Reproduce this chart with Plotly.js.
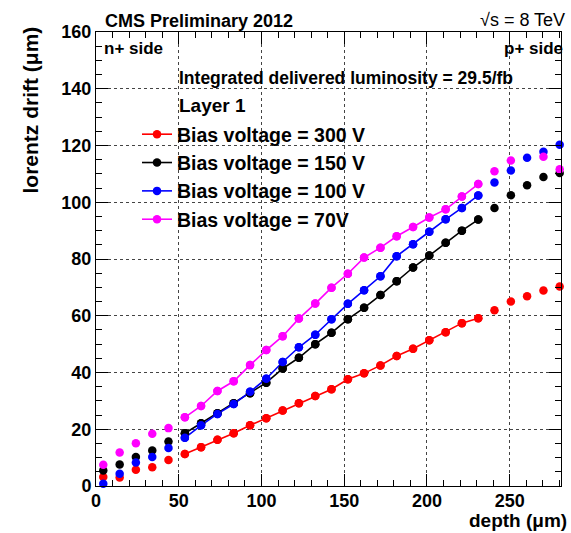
<!DOCTYPE html>
<html><head><meta charset="utf-8">
<script src="https://cdn.plot.ly/plotly-3.0.1.min.js"></script>
<style>html,body{margin:0;padding:0;background:#fff}#chart{width:571px;height:533px}</style>
</head><body><div id="chart"></div>
<script>
// depth bin centres (micrometres)
const depth = [4.4, 14.3, 24.1, 34.0, 43.8, 53.7, 63.5, 73.4, 83.2, 93.1, 102.9, 112.8, 122.6, 132.5, 142.3,
  152.2, 162.0, 171.9, 181.7, 191.6, 201.4, 211.3, 221.1, 231.0, 240.8, 250.7, 260.5, 270.4, 280.2];
// lorentz drift (micrometres) for each bias voltage
const drift300 = [3.2, 3.0, 5.7, 6.6, 9.2, 11.3, 13.7, 16.3, 18.6, 21.4, 23.9, 26.6, 29.2, 31.7, 34.1,
  37.6, 39.7, 42.5, 45.8, 48.4, 51.4, 54.2, 57.4, 59.1, 61.9, 65.0, 66.9, 68.9, 70.3];
const drift150 = [5.5, 7.6, 10.2, 12.5, 15.7, 18.6, 22.1, 25.6, 29.2, 32.7, 36.4, 41.4, 45.2, 50.0, 54.0,
  58.8, 62.8, 67.3, 72.2, 77.0, 81.2, 85.7, 90.0, 93.9, 98.0, 102.5, 106.0, 108.9, 110.3];
const drift100 = [0.8, 4.3, 8.3, 10.2, 13.4, 17.0, 21.4, 25.4, 28.9, 33.2, 37.8, 43.7, 48.9, 53.3, 58.8,
  64.2, 69.0, 73.9, 81.0, 85.2, 89.6, 94.0, 98.0, 102.4, 107.0, 111.2, 115.7, 117.8, 120.3];
const drift70 = [7.5, 11.8, 15.1, 18.4, 20.4, 24.2, 28.2, 33.5, 36.9, 42.6, 47.9, 52.8, 59.0, 64.3, 69.9,
  74.8, 80.5, 84.0, 88.0, 91.3, 94.6, 97.5, 102.0, 106.4, 110.9, 114.7, null, 116.0, 111.6];
const seriesNames = ['Bias voltage = 300 V', 'Bias voltage = 150 V', 'Bias voltage = 100 V', 'Bias voltage = 70V'];
const seriesColors = ['#ff0000', '#000000', '#0000ff', '#ff00ff'];
// fitted range: points index 5 .. 23
const fitFirst = 5, fitLast = 23;

const series = [drift300, drift150, drift100, drift70];
const FONT = 'Liberation Sans, Arial, Helvetica, sans-serif';
const traces = [];
series.forEach((ys, k) => {
  traces.push({
    type: 'scatter', mode: 'lines+markers', name: seriesNames[k],
    x: depth.slice(fitFirst, fitLast + 1), y: ys.slice(fitFirst, fitLast + 1),
    line: {color: seriesColors[k], width: 1.6},
    marker: {color: seriesColors[k], size: 8.5, symbol: 'circle'},
    cliponaxis: false, legendgroup: 'g' + k
  });
});
series.forEach((ys, k) => {
  traces.push({
    type: 'scatter', mode: 'markers', name: seriesNames[k], showlegend: false,
    x: depth, y: ys,
    marker: {color: seriesColors[k], size: 8.5, symbol: 'circle'},
    cliponaxis: false, legendgroup: 'g' + k
  });
});

const px = v => (v - 96) / 465;
const py = v => (486 - v) / 454;
const bold = {family: FONT, weight: 'bold', color: '#000'};

const axisCommon = {
  showline: true, linecolor: '#000', linewidth: 1, mirror: 'allticks',
  ticks: 'inside', ticklen: 12, tickwidth: 1, tickcolor: '#000',
  showgrid: true, gridcolor: '#444', griddash: 'dot', gridwidth: 1,
  zeroline: false, tickfont: {family: FONT, weight: 'bold', size: 18, color: '#000'}
};

const layout = {
  width: 571, height: 533,
  margin: {l: 96, r: 10, t: 32, b: 47},
  paper_bgcolor: '#fff', plot_bgcolor: '#fff',
  font: {family: FONT, color: '#000'},
  title: {text: 'CMS Preliminary 2012', xref: 'container', yref: 'container',
    x: 105 / 571, xanchor: 'left', y: 1 - 20.5 / 533, yanchor: 'middle',
    font: {family: FONT, weight: 'bold', size: 18, color: '#000'}},
  xaxis: Object.assign({}, axisCommon, {range: [0, 281], dtick: 50, tick0: 0, ticklabelstandoff: -2,
    minor: {ticks: 'inside', ticklen: 6, dtick: 10, tickcolor: '#000', showgrid: false}}),
  yaxis: Object.assign({}, axisCommon, {range: [0, 160], dtick: 20, tick0: 0,
    minor: {ticks: 'inside', ticklen: 6, dtick: 5, tickcolor: '#000', showgrid: false}}),
  showlegend: true,
  legend: {x: px(137), xanchor: 'left', y: py(115), yanchor: 'top',
    bgcolor: 'rgba(0,0,0,0)', borderwidth: 0, traceorder: 'normal',
    font: {family: FONT, weight: 'bold', size: 19.5, color: '#000'}},
  annotations: [
    {text: '√s = 8 TeV', xref: 'paper', yref: 'paper', x: px(567), xanchor: 'right', y: py(20.5), yanchor: 'middle',
      showarrow: false, font: {family: FONT, size: 18, color: '#000'}},
    {text: 'n+ side', xref: 'paper', yref: 'paper', x: px(102), xanchor: 'left', y: py(49), yanchor: 'middle',
      showarrow: false, font: Object.assign({size: 17}, bold)},
    {text: 'p+ side', xref: 'paper', yref: 'paper', x: px(565), xanchor: 'right', y: py(49), yanchor: 'middle',
      showarrow: false, font: Object.assign({size: 17}, bold)},
    {text: 'Integrated delivered luminosity = 29.5/fb', xref: 'paper', yref: 'paper', x: px(177), xanchor: 'left',
      y: py(78), yanchor: 'middle', showarrow: false, font: Object.assign({size: 17.5}, bold)},
    {text: 'Layer 1', xref: 'paper', yref: 'paper', x: px(177), xanchor: 'left', y: py(105), yanchor: 'middle',
      showarrow: false, font: Object.assign({size: 19}, bold)},
    {text: 'lorentz drift (μm)', xref: 'paper', yref: 'paper', x: px(30), xanchor: 'center', y: py(25), yanchor: 'top',
      textangle: -90, showarrow: false, font: Object.assign({size: 21}, bold)},
    {text: 'depth (μm)', xref: 'paper', yref: 'paper', x: px(568), xanchor: 'right', y: py(520.5), yanchor: 'middle',
      borderpad: 0, showarrow: false, font: Object.assign({size: 19}, bold)}
  ]
};

Plotly.newPlot('chart', traces, layout, {displayModeBar: false, responsive: false, staticPlot: true});
</script>
</body></html>
